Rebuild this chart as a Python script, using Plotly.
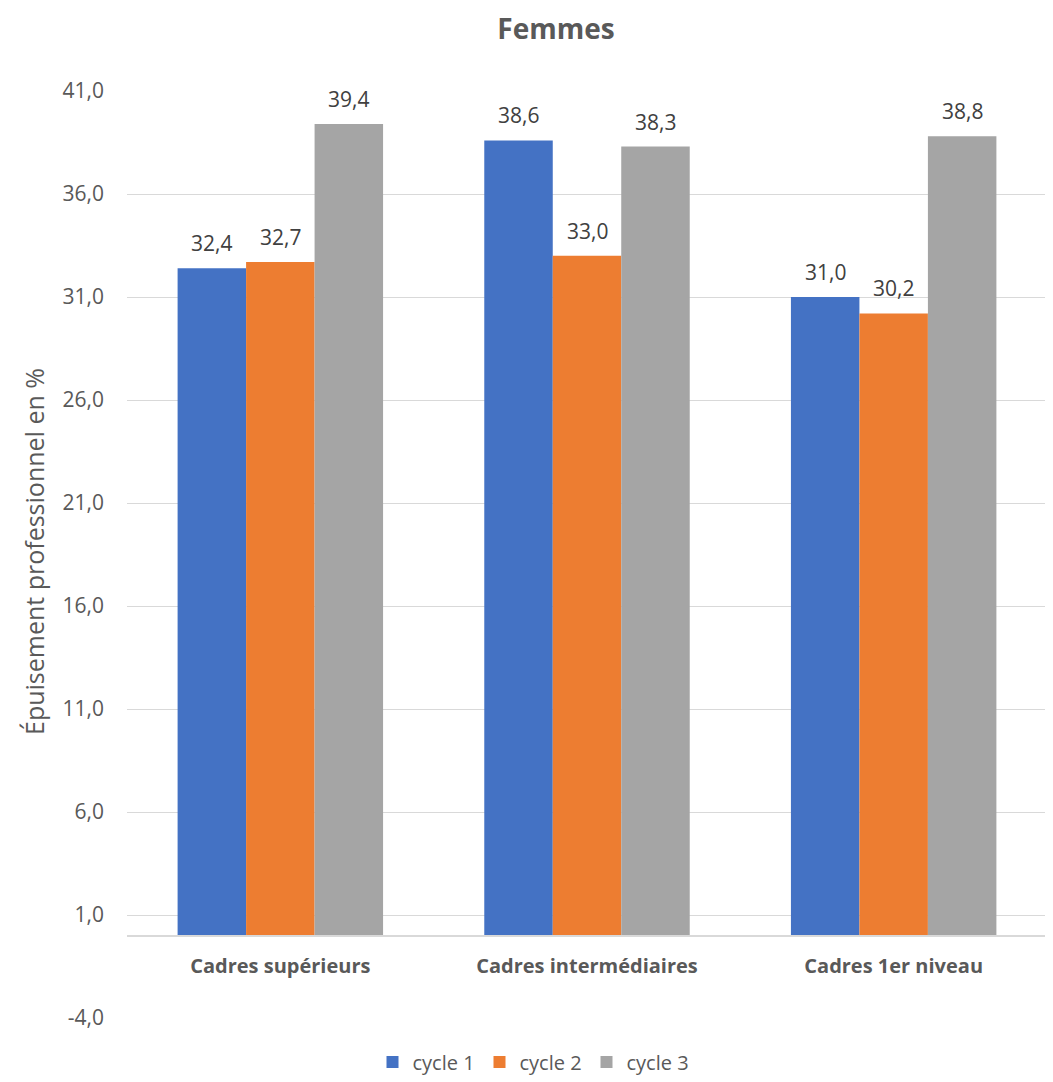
import plotly.graph_objects as go

categories = ["Cadres supérieurs", "Cadres intermédiaires", "Cadres 1er niveau"]
series_names = ["cycle 1", "cycle 2", "cycle 3"]
cycle1 = [32.4, 38.6, 31.0]
cycle2 = [32.7, 33.0, 30.2]
cycle3 = [39.4, 38.3, 38.8]
colors = ["#4472C4", "#ED7D31", "#A5A5A5"]
y_ticks = [-4, 1, 6, 11, 16, 21, 26, 31, 36, 41]
y_ticktext = [f"{v:.1f}".replace(".", ",") for v in y_ticks]

W, H = 1053, 1082
OFF = 8  # default page body margin
L, R, T, B = 127, 6, 91, 64
ymin, ymax = -4, 41
BARGAP = 0.33
FONT = "Open Sans"
GREY_TXT = "#595959"

fig_w, fig_h = W - OFF, H - OFF
plot_w = W - L - R
plot_h = H - T - B
cat_px = plot_w / len(categories)
bar_px = cat_px * (1 - BARGAP) / len(series_names)

fig = go.Figure()
annotations = []
all_series = [cycle1, cycle2, cycle3]
for j, (name, vals, col) in enumerate(zip(series_names, all_series, colors)):
    fig.add_trace(go.Bar(
        x=categories, y=vals, name=name,
        marker=dict(color=col, line=dict(width=0)),
        cliponaxis=False,
    ))
    for cat, v in zip(categories, vals):
        annotations.append(dict(
            x=cat, y=v, xref="x", yref="y",
            text=f"{v:.1f}".replace(".", ","),
            showarrow=False, xanchor="center", yanchor="middle",
            xshift=(j - (len(series_names) - 1) / 2) * bar_px, yshift=25,
            font=dict(family=FONT, size=21, color="#404040"),
        ))

annotations.append(dict(
    text="Épuisement professionnel en %", textangle=-90,
    xref="paper", yref="paper",
    x=-(L - 34) / plot_w, y=(H - B - 552) / plot_h,
    xanchor="center", yanchor="middle", showarrow=False,
    font=dict(family=FONT, size=25, color=GREY_TXT)))

fig.update_layout(
    width=fig_w, height=fig_h,
    margin=dict(l=L - OFF, r=R, t=T - OFF, b=B, autoexpand=False),
    paper_bgcolor="white", plot_bgcolor="white",
    barmode="group", bargap=BARGAP, bargroupgap=0,
    font=dict(family=FONT, color=GREY_TXT),
    title=dict(text="<b>Femmes</b>", x=(556 - L) / plot_w, xref="paper", xanchor="center",
               y=1 - (29 - OFF) / fig_h, yanchor="middle",
               font=dict(family=FONT, size=28, color=GREY_TXT)),
    showlegend=True,
    legend=dict(orientation="h", x=(533 - L) / plot_w, xanchor="center",
                y=-44 / plot_h, yanchor="middle",
                font=dict(family=FONT, size=20, color=GREY_TXT),
                itemwidth=30, traceorder="normal",
                entrywidth=62, entrywidthmode="pixels"),
    yaxis=dict(range=[ymin, ymax], tickvals=y_ticks, ticktext=y_ticktext,
               showgrid=True, gridcolor="#D9D9D9", gridwidth=1,
               zeroline=False, showline=False, ticks="", automargin=False,
               ticklabelstandoff=22,
               tickfont=dict(family=FONT, size=21, color=GREY_TXT)),
    xaxis=dict(anchor="free", position=(0 - ymin) / (ymax - ymin),
               showline=True, linecolor="#D9D9D9", linewidth=1.5,
               showgrid=False, ticks="", ticklabelstandoff=13, automargin=False,
               tickprefix="<b>", ticksuffix="</b>",
               tickfont=dict(family=FONT, size=20, color=GREY_TXT)),
    annotations=annotations,
)

fig.write_html("out.html")
